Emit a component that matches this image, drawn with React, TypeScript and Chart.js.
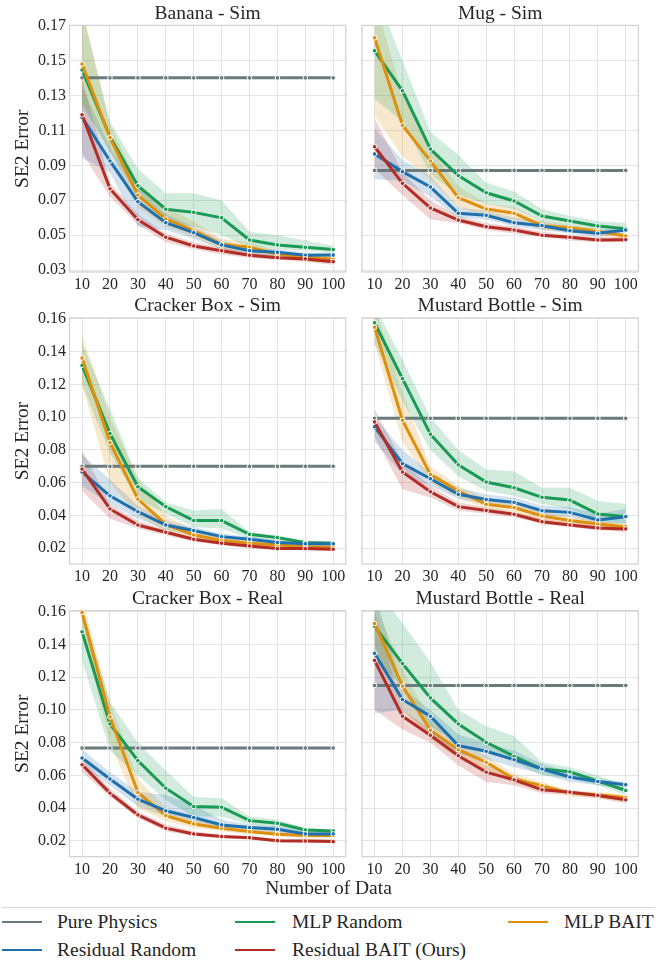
import React, { useEffect, useRef } from "react";
import { Chart, registerables } from "chart.js";

Chart.register(...registerables);
Chart.defaults.font.family = "'Liberation Serif', 'Times New Roman', serif";

// ---------------- DATA ----------------
const numData = [10, 20, 30, 40, 50, 60, 70, 80, 90, 100];
const seriesNames = ["Pure Physics", "MLP Random", "MLP BAIT", "Residual Random", "Residual BAIT (Ours)"];
const seriesColors = ["#6b7a7a", "#1b9a55", "#de8f0c", "#2070ad", "#b32d27"];
const bandColors = ["", "rgba(27,154,85,0.2)", "rgba(222,143,12,0.2)", "rgba(32,112,173,0.2)", "rgba(179,45,39,0.2)"];
const yTicksTop = [0.03, 0.05, 0.07, 0.09, 0.11, 0.13, 0.15, 0.17];
const yTicksLower = [0.02, 0.04, 0.06, 0.08, 0.1, 0.12, 0.14, 0.16];

// Banana - Sim
const bananaPure = [0.14, 0.14, 0.14, 0.14, 0.14, 0.14, 0.14, 0.14, 0.14, 0.14];
const bananaMlpRandom = [0.1445, 0.1064, 0.0783, 0.0649, 0.0631, 0.06, 0.0473, 0.0445, 0.0431, 0.0418];
const bananaMlpRandomLo = [0.125, 0.098, 0.072, 0.058, 0.055, 0.05, 0.043, 0.042, 0.041, 0.04];
const bananaMlpRandomHi = [0.178, 0.115, 0.088, 0.074, 0.074, 0.07, 0.052, 0.05, 0.047, 0.044];
const bananaMlpBait = [0.1479, 0.1058, 0.073, 0.0593, 0.0526, 0.0449, 0.0431, 0.0393, 0.0374, 0.0363];
const bananaMlpBaitLo = [0.125, 0.098, 0.066, 0.055, 0.049, 0.042, 0.04, 0.037, 0.035, 0.034];
const bananaMlpBaitHi = [0.18, 0.113, 0.08, 0.066, 0.058, 0.048, 0.046, 0.041, 0.039, 0.038];
const bananaResRandom = [0.1174, 0.0925, 0.0692, 0.0572, 0.0515, 0.0445, 0.0412, 0.0403, 0.0386, 0.0387];
const bananaResRandomLo = [0.094, 0.086, 0.055, 0.053, 0.048, 0.042, 0.039, 0.038, 0.037, 0.037];
const bananaResRandomHi = [0.135, 0.1, 0.078, 0.062, 0.055, 0.047, 0.043, 0.042, 0.04, 0.04];
const bananaResBait = [0.1189, 0.0766, 0.0589, 0.0489, 0.0439, 0.0412, 0.0386, 0.0372, 0.0365, 0.0349];
const bananaResBaitLo = [0.097, 0.072, 0.056, 0.046, 0.042, 0.039, 0.037, 0.036, 0.035, 0.033];
const bananaResBaitHi = [0.14, 0.08, 0.062, 0.051, 0.046, 0.043, 0.04, 0.039, 0.038, 0.036];

// Mug - Sim
const mugPure = [0.0871, 0.0871, 0.0871, 0.0871, 0.0871, 0.0871, 0.0871, 0.0871, 0.0871, 0.0871];
const mugMlpRandom = [0.1555, 0.1326, 0.0993, 0.0841, 0.0743, 0.0696, 0.061, 0.0582, 0.0553, 0.0538];
const mugMlpRandomLo = [0.128, 0.115, 0.085, 0.073, 0.068, 0.065, 0.058, 0.055, 0.053, 0.052];
const mugMlpRandomHi = [0.19, 0.15, 0.109, 0.096, 0.08, 0.075, 0.065, 0.061, 0.058, 0.057];
const mugMlpBait = [0.1629, 0.1129, 0.0925, 0.0715, 0.065, 0.0626, 0.0555, 0.0543, 0.0521, 0.0496];
const mugMlpBaitLo = [0.118, 0.095, 0.082, 0.066, 0.061, 0.059, 0.053, 0.052, 0.05, 0.048];
const mugMlpBaitHi = [0.185, 0.13, 0.1, 0.078, 0.068, 0.066, 0.058, 0.056, 0.054, 0.051];
const mugResRandom = [0.0965, 0.0864, 0.0776, 0.0626, 0.0614, 0.0572, 0.0555, 0.0526, 0.0511, 0.053];
const mugResRandomLo = [0.082, 0.081, 0.072, 0.06, 0.059, 0.055, 0.053, 0.051, 0.049, 0.051];
const mugResRandomHi = [0.111, 0.093, 0.084, 0.066, 0.064, 0.06, 0.058, 0.055, 0.053, 0.055];
const mugResBait = [0.1006, 0.0797, 0.0656, 0.0587, 0.0549, 0.053, 0.05, 0.0489, 0.0473, 0.0475];
const mugResBaitLo = [0.088, 0.073, 0.059, 0.057, 0.053, 0.051, 0.049, 0.047, 0.046, 0.046];
const mugResBaitHi = [0.117, 0.086, 0.07, 0.061, 0.057, 0.055, 0.052, 0.05, 0.049, 0.049];

// Cracker Box - Sim
const crackerSimPure = [0.07, 0.07, 0.07, 0.07, 0.07, 0.07, 0.07, 0.07, 0.07, 0.07];
const crackerSimMlpRandom = [0.1316, 0.09, 0.0575, 0.0454, 0.0369, 0.0369, 0.0285, 0.0265, 0.0235, 0.0231];
const crackerSimMlpRandomLo = [0.12, 0.078, 0.05, 0.041, 0.033, 0.032, 0.026, 0.025, 0.022, 0.022];
const crackerSimMlpRandomHi = [0.145, 0.105, 0.063, 0.048, 0.043, 0.044, 0.03, 0.028, 0.024, 0.024];
const crackerSimMlpBait = [0.1361, 0.0845, 0.05, 0.0346, 0.0281, 0.0247, 0.023, 0.022, 0.021, 0.0206];
const crackerSimMlpBaitLo = [0.12, 0.06, 0.04, 0.03, 0.026, 0.023, 0.022, 0.021, 0.02, 0.02];
const crackerSimMlpBaitHi = [0.15, 0.1, 0.062, 0.04, 0.031, 0.027, 0.024, 0.023, 0.022, 0.022];
const crackerSimResRandom = [0.0665, 0.052, 0.0423, 0.0342, 0.0308, 0.0271, 0.0255, 0.0235, 0.0227, 0.0227];
const crackerSimResRandomLo = [0.058, 0.047, 0.038, 0.031, 0.028, 0.025, 0.024, 0.022, 0.021, 0.021];
const crackerSimResRandomHi = [0.077, 0.062, 0.046, 0.037, 0.033, 0.029, 0.027, 0.025, 0.024, 0.024];
const crackerSimResBait = [0.0683, 0.044, 0.0342, 0.0298, 0.0255, 0.0231, 0.0214, 0.0198, 0.0198, 0.0194];
const crackerSimResBaitLo = [0.055, 0.038, 0.032, 0.028, 0.024, 0.022, 0.02, 0.019, 0.019, 0.018];
const crackerSimResBaitHi = [0.08, 0.047, 0.037, 0.031, 0.027, 0.024, 0.022, 0.021, 0.021, 0.02];

// Mustard Bottle - Sim
const mustardSimPure = [0.0993, 0.0993, 0.0993, 0.0993, 0.0993, 0.0993, 0.0993, 0.0993, 0.0993, 0.0993];
const mustardSimMlpRandom = [0.1576, 0.1235, 0.0896, 0.0709, 0.0604, 0.0569, 0.0511, 0.0494, 0.0409, 0.0393];
const mustardSimMlpRandomLo = [0.145, 0.11, 0.08, 0.064, 0.055, 0.052, 0.047, 0.044, 0.037, 0.035];
const mustardSimMlpRandomHi = [0.168, 0.135, 0.1, 0.08, 0.068, 0.067, 0.057, 0.057, 0.049, 0.047];
const mustardSimMlpBait = [0.1549, 0.0981, 0.0651, 0.0549, 0.0468, 0.0448, 0.0397, 0.0369, 0.0348, 0.0332];
const mustardSimMlpBaitLo = [0.145, 0.085, 0.06, 0.051, 0.044, 0.042, 0.034, 0.035, 0.033, 0.031];
const mustardSimMlpBaitHi = [0.168, 0.115, 0.07, 0.058, 0.05, 0.047, 0.043, 0.039, 0.037, 0.035];
const mustardSimResRandom = [0.0941, 0.0717, 0.0624, 0.0529, 0.0498, 0.048, 0.0429, 0.0419, 0.0373, 0.0393];
const mustardSimResRandomLo = [0.085, 0.065, 0.058, 0.05, 0.047, 0.045, 0.04, 0.039, 0.035, 0.035];
const mustardSimResRandomHi = [0.1, 0.08, 0.066, 0.057, 0.053, 0.051, 0.046, 0.045, 0.041, 0.044];
const mustardSimResBait = [0.0971, 0.0665, 0.0545, 0.0454, 0.0431, 0.0407, 0.0362, 0.0342, 0.0324, 0.0318];
const mustardSimResBaitLo = [0.088, 0.056, 0.051, 0.043, 0.041, 0.039, 0.035, 0.033, 0.031, 0.03];
const mustardSimResBaitHi = [0.105, 0.073, 0.058, 0.048, 0.045, 0.042, 0.038, 0.036, 0.034, 0.033];

// Cracker Box - Real
const crackerRealPure = [0.0767, 0.0767, 0.0767, 0.0767, 0.0767, 0.0767, 0.0767, 0.0767, 0.0767, 0.0767];
const crackerRealMlpRandom = [0.1476, 0.0914, 0.069, 0.0522, 0.041, 0.0406, 0.0324, 0.0308, 0.0267, 0.0261];
const crackerRealMlpRandomLo = [0.13, 0.075, 0.06, 0.045, 0.035, 0.035, 0.03, 0.028, 0.025, 0.024];
const crackerRealMlpRandomHi = [0.162, 0.105, 0.08, 0.063, 0.047, 0.046, 0.035, 0.033, 0.028, 0.027];
const crackerRealMlpBait = [0.1594, 0.0957, 0.0496, 0.0355, 0.0304, 0.0278, 0.0257, 0.0241, 0.0233, 0.0233];
const crackerRealMlpBaitLo = [0.15, 0.08, 0.04, 0.032, 0.028, 0.026, 0.024, 0.023, 0.022, 0.022];
const crackerRealMlpBaitHi = [0.168, 0.105, 0.058, 0.04, 0.033, 0.03, 0.028, 0.026, 0.025, 0.025];
const crackerRealResRandom = [0.0706, 0.0578, 0.0455, 0.0384, 0.0343, 0.0298, 0.0282, 0.0271, 0.0243, 0.0243];
const crackerRealResRandomLo = [0.066, 0.054, 0.041, 0.035, 0.031, 0.028, 0.026, 0.025, 0.023, 0.023];
const crackerRealResRandomHi = [0.076, 0.062, 0.05, 0.048, 0.042, 0.033, 0.03, 0.029, 0.026, 0.026];
const crackerRealResBait = [0.0665, 0.0492, 0.0359, 0.0278, 0.0243, 0.0227, 0.022, 0.0202, 0.02, 0.0196];
const crackerRealResBaitLo = [0.062, 0.047, 0.034, 0.026, 0.023, 0.022, 0.021, 0.019, 0.019, 0.019];
const crackerRealResBaitHi = [0.07, 0.052, 0.038, 0.03, 0.026, 0.024, 0.023, 0.021, 0.021, 0.021];

// Mustard Bottle - Real
const mustardRealPure = [0.1149, 0.1149, 0.1149, 0.1149, 0.1149, 0.1149, 0.1149, 0.1149, 0.1149, 0.1149];
const mustardRealMlpRandom = [0.151, 0.1282, 0.1073, 0.0914, 0.0802, 0.0716, 0.0639, 0.0622, 0.0565, 0.0508];
const mustardRealMlpRandomLo = [0.13, 0.115, 0.09, 0.08, 0.075, 0.068, 0.06, 0.058, 0.054, 0.048];
const mustardRealMlpRandomHi = [0.175, 0.153, 0.129, 0.1, 0.09, 0.084, 0.068, 0.065, 0.06, 0.054];
const mustardRealMlpBait = [0.1527, 0.1145, 0.0876, 0.0757, 0.068, 0.0578, 0.0537, 0.0492, 0.0482, 0.0465];
const mustardRealMlpBaitLo = [0.14, 0.1, 0.082, 0.07, 0.063, 0.055, 0.052, 0.047, 0.046, 0.044];
const mustardRealMlpBaitHi = [0.165, 0.125, 0.093, 0.08, 0.072, 0.061, 0.056, 0.051, 0.05, 0.048];
const mustardRealResRandom = [0.1345, 0.1063, 0.0961, 0.0782, 0.0747, 0.0696, 0.0639, 0.059, 0.0563, 0.0543];
const mustardRealResRandomLo = [0.098, 0.1, 0.085, 0.073, 0.07, 0.065, 0.061, 0.056, 0.054, 0.052];
const mustardRealResRandomHi = [0.172, 0.113, 0.1, 0.085, 0.08, 0.075, 0.067, 0.062, 0.058, 0.056];
const mustardRealResBait = [0.1302, 0.0961, 0.0845, 0.072, 0.062, 0.0573, 0.0512, 0.0498, 0.0478, 0.0451];
const mustardRealResBaitLo = [0.1, 0.088, 0.08, 0.066, 0.056, 0.054, 0.049, 0.048, 0.046, 0.043];
const mustardRealResBaitHi = [0.16, 0.1, 0.088, 0.076, 0.066, 0.06, 0.053, 0.051, 0.049, 0.047];

// ---------------- LAYOUT ----------------
const FONT = "'Liberation Serif', 'Times New Roman', serif";
const TEXT = "#262626";
const TITLE_H = 23.4; // 19.5px * 1.2
const cols = [
  { L: 69.5, R: 345.8, cx: 0, cw: 366, yW: 69.5 },
  { L: 362, R: 638.3, cx: 342, cw: 318, yW: 0 },
];
const rows = [
  { T: 25.4, B: 272, cy: 2, ch: 300, min: 0.029, max: 0.17, ticks: yTicksTop },
  { T: 318, B: 564, cy: 294, ch: 300, min: 0.0104, max: 0.1605, ticks: yTicksLower },
  { T: 610.7, B: 856.7, cy: 587, ch: 300, min: 0.0104, max: 0.1605, ticks: yTicksLower },
];

type PanelSpec = {
  title: string;
  row: number;
  col: number;
  pure: number[];
  series: number[][][]; // [mean, lo, hi] for the four learned models
};

const panels: PanelSpec[] = [
  {
    title: "Banana - Sim", row: 0, col: 0, pure: bananaPure,
    series: [
      [bananaMlpRandom, bananaMlpRandomLo, bananaMlpRandomHi],
      [bananaMlpBait, bananaMlpBaitLo, bananaMlpBaitHi],
      [bananaResRandom, bananaResRandomLo, bananaResRandomHi],
      [bananaResBait, bananaResBaitLo, bananaResBaitHi],
    ],
  },
  {
    title: "Mug - Sim", row: 0, col: 1, pure: mugPure,
    series: [
      [mugMlpRandom, mugMlpRandomLo, mugMlpRandomHi],
      [mugMlpBait, mugMlpBaitLo, mugMlpBaitHi],
      [mugResRandom, mugResRandomLo, mugResRandomHi],
      [mugResBait, mugResBaitLo, mugResBaitHi],
    ],
  },
  {
    title: "Cracker Box - Sim", row: 1, col: 0, pure: crackerSimPure,
    series: [
      [crackerSimMlpRandom, crackerSimMlpRandomLo, crackerSimMlpRandomHi],
      [crackerSimMlpBait, crackerSimMlpBaitLo, crackerSimMlpBaitHi],
      [crackerSimResRandom, crackerSimResRandomLo, crackerSimResRandomHi],
      [crackerSimResBait, crackerSimResBaitLo, crackerSimResBaitHi],
    ],
  },
  {
    title: "Mustard Bottle - Sim", row: 1, col: 1, pure: mustardSimPure,
    series: [
      [mustardSimMlpRandom, mustardSimMlpRandomLo, mustardSimMlpRandomHi],
      [mustardSimMlpBait, mustardSimMlpBaitLo, mustardSimMlpBaitHi],
      [mustardSimResRandom, mustardSimResRandomLo, mustardSimResRandomHi],
      [mustardSimResBait, mustardSimResBaitLo, mustardSimResBaitHi],
    ],
  },
  {
    title: "Cracker Box - Real", row: 2, col: 0, pure: crackerRealPure,
    series: [
      [crackerRealMlpRandom, crackerRealMlpRandomLo, crackerRealMlpRandomHi],
      [crackerRealMlpBait, crackerRealMlpBaitLo, crackerRealMlpBaitHi],
      [crackerRealResRandom, crackerRealResRandomLo, crackerRealResRandomHi],
      [crackerRealResBait, crackerRealResBaitLo, crackerRealResBaitHi],
    ],
  },
  {
    title: "Mustard Bottle - Real", row: 2, col: 1, pure: mustardRealPure,
    series: [
      [mustardRealMlpRandom, mustardRealMlpRandomLo, mustardRealMlpRandomHi],
      [mustardRealMlpBait, mustardRealMlpBaitLo, mustardRealMlpBaitHi],
      [mustardRealResRandom, mustardRealResRandomLo, mustardRealResRandomHi],
      [mustardRealResBait, mustardRealResBaitLo, mustardRealResBaitHi],
    ],
  },
];

const framePlugin = {
  id: "frame",
  beforeDatasetsDraw(chart: any) {
    const { ctx, chartArea: a } = chart;
    ctx.save();
    ctx.strokeStyle = "#d0d0d0";
    ctx.lineWidth = 1.2;
    ctx.strokeRect(a.left, a.top, a.right - a.left, a.bottom - a.top);
    ctx.restore();
  },
};

const pts = (arr: number[]) => numData.map((x, i) => ({ x, y: arr[i] }));

function Panel({ spec }: { spec: PanelSpec }) {
  const ref = useRef<HTMLCanvasElement>(null);
  const c = cols[spec.col];
  const r = rows[spec.row];
  useEffect(() => {
    const datasets: any[] = [];
    // confidence bands
    spec.series.forEach((s, k) => {
      datasets.push({
        label: seriesNames[k + 1] + " lo",
        data: pts(s[1]),
        borderWidth: 0,
        pointRadius: 0,
        fill: false,
        order: 10,
      });
      datasets.push({
        label: seriesNames[k + 1] + " hi",
        data: pts(s[2]),
        borderWidth: 0,
        pointRadius: 0,
        backgroundColor: bandColors[k + 1],
        fill: "-1",
        order: 10,
      });
    });
    const lineDs = (label: string, arr: number[], color: string, order: number) => ({
      label,
      data: pts(arr),
      borderColor: color,
      backgroundColor: color,
      borderWidth: 3,
      pointRadius: 2.3,
      pointBackgroundColor: color,
      pointBorderColor: "#ffffff",
      pointBorderWidth: 1,
      fill: false,
      tension: 0,
      order,
    });
    datasets.push(lineDs(seriesNames[0], spec.pure, seriesColors[0], 5));
    spec.series.forEach((s, k) => {
      datasets.push(lineDs(seriesNames[k + 1], s[0], seriesColors[k + 1], 4 - k));
    });

    const padLeft = c.L - c.cx - c.yW;
    const padTop = r.T - r.cy - TITLE_H;
    const padRight = c.cx + c.cw - c.R;
    const xH = r.cy + r.ch - r.B;
    const isLeft = spec.col === 0;

    const chart = new Chart(ref.current!, {
      type: "line",
      data: { datasets },
      plugins: [framePlugin],
      options: {
        responsive: false,
        animation: false,
        devicePixelRatio: 1,
        layout: { padding: { left: padLeft, top: padTop, right: padRight, bottom: 0 } },
        plugins: {
          legend: { display: false },
          tooltip: { enabled: false },
          title: {
            display: true,
            text: spec.title,
            fullSize: false,
            color: TEXT,
            font: { family: FONT, size: 19.5, weight: "normal", lineHeight: 1.2 },
            padding: 0,
          },
        },
        scales: {
          x: {
            type: "linear",
            min: 5.5,
            max: 104.5,
            afterBuildTicks: (s: any) => {
              s.ticks = numData.map((v) => ({ value: v }));
            },
            afterFit: (s: any) => {
              s.height = xH;
            },
            grid: { color: "#e4e4e4", lineWidth: 1, drawTicks: false },
            border: { display: false },
            ticks: {
              color: TEXT,
              padding: 3,
              font: { family: FONT, size: 16 },
              maxRotation: 0,
              autoSkip: false,
              callback: (v: any) => String(v),
            },
          },
          y: {
            type: "linear",
            min: r.min,
            max: r.max,
            afterBuildTicks: (s: any) => {
              s.ticks = r.ticks.map((v) => ({ value: v }));
            },
            afterFit: (s: any) => {
              s.width = c.yW;
            },
            grid: { color: "#e4e4e4", lineWidth: 1, drawTicks: false },
            border: { display: false },
            ticks: {
              display: isLeft,
              color: TEXT,
              padding: 3.5,
              font: { family: FONT, size: 16 },
              autoSkip: false,
              callback: (v: any) => Number(v).toFixed(2),
            },
            title: {
              display: isLeft,
              text: "SE2 Error",
              color: TEXT,
              font: { family: FONT, size: 19.5, lineHeight: 1.2 },
              padding: { top: 11.5, bottom: 0 },
            },
          },
        },
      } as any,
    });
    return () => chart.destroy();
  }, []);
  return (
    <canvas
      ref={ref}
      width={c.cw}
      height={r.ch}
      style={{ position: "absolute", left: c.cx, top: r.cy, width: c.cw, height: r.ch }}
    />
  );
}

const legendItems = [
  { k: 0, lx: 2, tx: 57, y: 922 },
  { k: 1, lx: 235, tx: 292, y: 922 },
  { k: 2, lx: 508, tx: 564, y: 922 },
  { k: 3, lx: 2, tx: 57, y: 950 },
  { k: 4, lx: 235, tx: 292, y: 950 },
];

export default function App() {
  return (
    <div
      style={{
        position: "absolute",
        left: 0,
        top: 0,
        width: 672,
        height: 965,
        background: "#ffffff",
        fontFamily: FONT,
        color: TEXT,
        overflow: "hidden",
      }}
    >
      {panels.map((p) => (
        <Panel key={p.title} spec={p} />
      ))}
      <div
        style={{
          position: "absolute",
          left: 228.5,
          width: 200,
          top: 876,
          lineHeight: "24px",
          fontSize: 19.5,
          textAlign: "center",
          whiteSpace: "nowrap",
        }}
      >
        Number of Data
      </div>
      <div style={{ position: "absolute", left: 2, top: 907, width: 653, height: 0, borderTop: "1px solid #d6d6d6" }} />
      {legendItems.map((it) => (
        <React.Fragment key={it.k}>
          <div
            style={{
              position: "absolute",
              left: it.lx,
              top: it.y - 1.25,
              width: 40,
              height: 2.5,
              background: seriesColors[it.k],
            }}
          />
          <div
            style={{
              position: "absolute",
              left: it.tx,
              top: it.y - 12,
              lineHeight: "24px",
              fontSize: 19.5,
              whiteSpace: "nowrap",
            }}
          >
            {seriesNames[it.k]}
          </div>
        </React.Fragment>
      ))}
    </div>
  );
}
